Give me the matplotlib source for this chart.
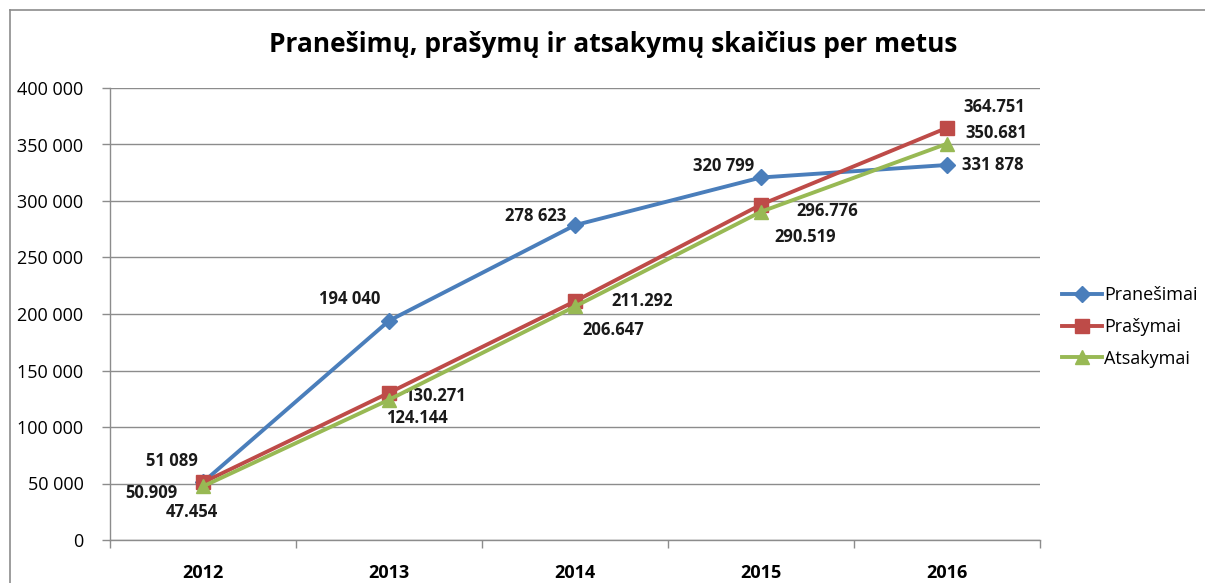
import matplotlib.pyplot as plt
from matplotlib.lines import Line2D

years = ["2012", "2013", "2014", "2015", "2016"]
pranesimai = [51089, 194040, 278623, 320799, 331878]
prasymai = [50909, 130271, 211292, 296776, 364751]
atsakymai = [47454, 124144, 206647, 290519, 350681]

pran_labels = ["51 089", "194 040", "278 623", "320 799", "331 878"]
pras_labels = ["50.909", "130.271", "211.292", "296.776", "364.751"]
ats_labels = ["47.454", "124.144", "206.647", "290.519", "350.681"]

# label offsets in pixels (dx, dy)
pran_off = [(-31, 21), (-39, 22), (-39, 9), (-37, 11), (46, 0)]
pras_off = [(-52, -11), (46, -3), (67, 0), (66, -6), (47, 21)]
ats_off = [(-11, -26), (28, -18), (38, -24), (44, -25), (49, 11)]

plt.rcParams['font.family'] = ['Open Sans', 'DejaVu Sans']

W, H = 1205, 583
fig = plt.figure(figsize=(W / 100, H / 100), dpi=100)
ax = fig.add_axes([110 / W, 1 - 540 / H, 930 / W, 452 / H])

# outer chart frame
fig.add_artist(Line2D([10 / W, 10 / W], [0, 1 - 10 / H], color='#8c8c8c', lw=1.2))
fig.add_artist(Line2D([10 / W, 1], [1 - 10 / H, 1 - 10 / H], color='#8c8c8c', lw=1.2))

x = list(range(len(years)))
blue, red, green = '#4A7EBB', '#BE4B48', '#98B954'
ax.plot(x, pranesimai, color=blue, lw=2.8, marker='D', ms=8, label='Pranešimai', zorder=3)
ax.plot(x, prasymai, color=red, lw=2.8, marker='s', ms=10, label='Prašymai', zorder=3)
ax.plot(x, atsakymai, color=green, lw=2.8, marker='^', ms=10, label='Atsakymai', zorder=4)

for vals, labs, offs in [(pranesimai, pran_labels, pran_off),
                         (prasymai, pras_labels, pras_off),
                         (atsakymai, ats_labels, ats_off)]:
    for i, (v, t, o) in enumerate(zip(vals, labs, offs)):
        ax.annotate(t, (i, v), xytext=o, textcoords='offset pixels',
                    ha='center', va='center', fontsize=12, fontweight='bold',
                    color='#1a1a1a')

ax.set_xlim(-0.5, 4.5)
ax.set_ylim(0, 400000)
ax.set_yticks(range(0, 400001, 50000))
ax.set_yticklabels([f"{v:,}".replace(",", " ") for v in range(0, 400001, 50000)])
ax.set_xticks(x)
ax.set_xticklabels(years, fontweight='bold')
ax.set_xticks([i - 0.5 for i in range(6)], minor=True)
ax.tick_params(axis='x', which='major', length=0, pad=17, labelsize=13)
ax.tick_params(axis='x', which='minor', length=6, color='#8c8c8c', width=1)
ax.tick_params(axis='y', length=6, color='#8c8c8c', width=1, pad=13, labelsize=13)
ax.grid(axis='y', color='#8c8c8c', lw=1)
ax.set_axisbelow(True)
for s in ['top', 'right']:
    ax.spines[s].set_visible(False)
for s in ['left', 'bottom']:
    ax.spines[s].set_color('#8c8c8c')
    ax.spines[s].set_linewidth(1)

fig.text(0.5 * (272 + 955) / W, 1 - 45 / H,
         "Pranešimų, prašymų ir atsakymų skaičius per metus",
         ha='center', va='center', fontsize=19, fontweight='bold')

ax.legend(loc='center left', bbox_to_anchor=(1055 / 930 - 110 / 930, 0.5 - (327 - 314) / 452),
          frameon=False, fontsize=13, handlelength=2.2, handletextpad=0.1,
          labelspacing=0.75, borderaxespad=0)

fig.savefig('out.png', dpi=100)
